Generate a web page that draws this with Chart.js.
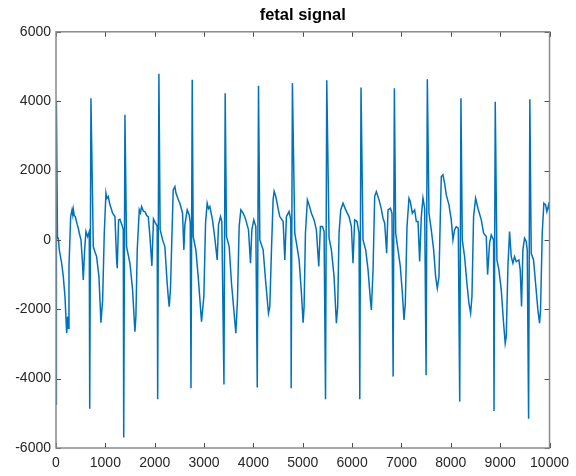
<!DOCTYPE html>
<html lang="en">
<head>
    <meta charset="UTF-8">
    <title>fetal signal</title>
    <script src="https://cdn.jsdelivr.net/npm/chart.js"></script>
    <style>
        body { margin: 0; background: #fff; }
        canvas { display: block; }
    </style>
</head>
<body>

    <canvas id="grafico" width="576" height="476"></canvas>

    <script>
        const titulo = 'fetal signal';
        const xTicks = [0, 1000, 2000, 3000, 4000, 5000, 6000, 7000, 8000, 9000, 10000];
        const yTicks = [-6000, -4000, -2000, 0, 2000, 4000, 6000];

        // sample index / amplitude (one beat per line)
        const sampleIdx = [
            0, 8, 30, 47, 67, 115, 148, 182, 216, 236, 250, 263, 297, 324, 340, 351, 370, 391, 410, 432, 450, 472, 506, 533, 553, 580, 607, 641, 674, 683, 708,
            756, 790, 823, 870, 911, 945, 978, 1012, 1030, 1059, 1093, 1120, 1147, 1194, 1228, 1241, 1268, 1295, 1336, 1363, 1372, 1397,
            1430, 1498, 1552, 1599, 1619, 1646, 1687, 1710, 1734, 1770, 1802, 1840, 1869, 1903, 1943, 1975, 2010, 2050, 2060, 2085,
            2110, 2160, 2206, 2250, 2274, 2294, 2320, 2341, 2375, 2409, 2430, 2456, 2480, 2510, 2540, 2564, 2591, 2611, 2659, 2699, 2720, 2735, 2760,
            2780, 2834, 2881, 2949, 2996, 3030, 3063, 3090, 3117, 3145, 3171, 3218, 3266, 3293, 3333, 3360, 3403, 3428,
            3455, 3509, 3556, 3603, 3644, 3677, 3711, 3745, 3792, 3820, 3846, 3900, 3941, 3968, 4008, 4049, 4078, 4103,
            4130, 4197, 4251, 4305, 4332, 4366, 4399, 4420, 4453, 4467, 4500, 4534, 4602, 4636, 4669, 4723, 4757, 4765, 4790,
            4838, 4872, 4926, 4973, 5007, 5027, 5054, 5094, 5128, 5175, 5229, 5276, 5324, 5357, 5398, 5432, 5461, 5486,
            5533, 5580, 5634, 5681, 5708, 5735, 5769, 5816, 5870, 5937, 5985, 6018, 6052, 6099, 6140, 6155, 6180,
            6221, 6275, 6323, 6370, 6390, 6424, 6457, 6491, 6545, 6590, 6626, 6660, 6700, 6727, 6775, 6808, 6831, 6856,
            6883, 6930, 6977, 7018, 7051, 7078, 7112, 7152, 7179, 7220, 7267, 7301, 7335, 7368, 7402, 7436, 7470, 7499, 7524,
            7557, 7604, 7652, 7692, 7726, 7760, 7787, 7807, 7840, 7874, 7908, 7962, 8009, 8043, 8076, 8110, 8151, 8180, 8205,
            8232, 8279, 8326, 8367, 8401, 8428, 8461, 8502, 8549, 8617, 8664, 8718, 8745, 8785, 8819, 8866, 8875, 8900,
            8934, 8974, 9022, 9069, 9102, 9123, 9157, 9190, 9224, 9258, 9291, 9325, 9379, 9406, 9433, 9460, 9494, 9528, 9548, 9576, 9601,
            9629, 9676, 9717, 9764, 9798, 9818, 9852, 9885, 9919, 9946, 9980, 10000
        ];
        const amplitude = [
            -4740, 4000, 50, 48, -288, -673, -1058, -1634, -2692, -2212, -2550, -769, 673, 865, 720, 880, 700, 673, 560, 433, 350, 192, 0, -577, -1154, -288, 240, 96, 240, -4865, 4087,
            -193, -350, -481, -1058, -2385, -1730, 192, 1346, 1200, 1250, 1010, 900, 769, 673, -577, -817, 577, 596, 433, 288, -5700, 3605,
            -193, -673, -1442, -2644, -2210, -288, 865, 780, 962, 830, 817, 700, 673, 100, -750, 600, 500, 400, -4595, 4788,
            300, 0, -192, -1200, -1634, -1923, -1400, -288, 1442, 1538, 1350, 1250, 1150, 1058, 900, 769, -288, 433, 865, 721, 500, -4280, 4615,
            96, -288, -1058, -2356, -1634, 481, 1058, 900, 962, 760, 577, 48, -577, 433, 673, 529, -4170, 4231,
            96, -193, -1250, -2019, -2692, -1730, 384, 865, 769, 680, 577, 288, -673, 288, 577, 384, -4257, 4442,
            0, -288, -1250, -2115, -1923, -288, 1154, 1400, 1250, 1154, 900, 673, 529, -577, 673, 817, 577, -4280, 4520,
            192, -96, -577, -1538, -2385, -1923, 192, 1154, 1010, 769, 577, 288, -769, 384, 384, 240, -4597, 4605,
            48, -288, -1058, -2404, -1923, 192, 865, 1058, 865, 673, 384, -673, 577, 529, 192, -4597, 4393,
            0, -288, -865, -1730, -2019, -865, 1250, 1394, 1154, 900, 625, 481, -385, 865, 913, 769, -3942, 4375,
            192, -288, -769, -1538, -2308, -1827, 384, 1202, 1106, 769, 865, 529, 529, -625, 673, 1202, 913, -3904, 4635,
            769, 288, -288, -1058, -1394, -1058, 673, 1827, 1875, 1634, 1298, 1010, 577, 0, 288, 384, 336, -4663, 4087,
            0, -481, -1250, -1827, -2115, -1634, 673, 1202, 913, 577, 192, 96, -1000, -96, 144, 0, -4932, 3980,
            -577, -865, -1442, -2404, -2981, -2788, -769, 240, -481, -673, -481, -625, -577, -865, -1923, -288, 48, -48, -288, -5154, 4058,
            -385, -577, -1250, -2019, -2404, -2019, 192, 1058, 1010, 817, 1010, 850
        ];

        const pontos = sampleIdx.map((x, i) => ({ x: x, y: amplitude[i] }));
        const fonte = '"Liberation Sans", Arial, sans-serif';

        // caixa estilo MATLAB com ticks para dentro nos quatro lados
        const caixa = {
            id: 'caixa',
            afterDraw(chart) {
                const ctx = chart.ctx;
                const a = chart.chartArea;
                const sx = chart.scales.x;
                const sy = chart.scales.y;
                ctx.save();
                ctx.strokeStyle = '#4d4d4d';
                ctx.lineWidth = 1;
                ctx.beginPath();
                xTicks.forEach(v => {
                    const px = Math.round(sx.getPixelForValue(v)) + 0.5;
                    ctx.moveTo(px, a.bottom); ctx.lineTo(px, a.bottom - 5);
                    ctx.moveTo(px, a.top); ctx.lineTo(px, a.top + 5);
                });
                yTicks.forEach(v => {
                    const py = Math.round(sy.getPixelForValue(v)) + 0.5;
                    ctx.moveTo(a.left, py); ctx.lineTo(a.left + 5, py);
                    ctx.moveTo(a.right, py); ctx.lineTo(a.right - 5, py);
                });
                ctx.stroke();
                ctx.strokeStyle = '#8a8a8a';
                ctx.lineWidth = 1.5;
                ctx.strokeRect(a.left, a.top, a.right - a.left, a.bottom - a.top);
                ctx.restore();
            }
        };

        new Chart(document.getElementById('grafico'), {
            type: 'line',
            data: {
                datasets: [{
                    data: pontos,
                    borderColor: '#0072BD',
                    borderWidth: 1.5,
                    pointRadius: 0,
                    tension: 0,
                    fill: false
                }]
            },
            options: {
                responsive: false,
                animation: false,
                layout: { padding: { left: 0, right: 26, top: 0, bottom: 0 } },
                plugins: {
                    legend: { display: false },
                    tooltip: { enabled: false },
                    title: {
                        display: true,
                        text: titulo,
                        fullSize: false,
                        color: '#000',
                        font: { family: fonte, size: 16.5, weight: 'bold' },
                        padding: { top: 6, bottom: 6 }
                    }
                },
                scales: {
                    x: {
                        type: 'linear',
                        min: 0,
                        max: 10000,
                        grid: { display: false, drawTicks: false },
                        border: { display: false },
                        afterBuildTicks: s => { s.ticks = xTicks.map(v => ({ value: v })); },
                        afterFit: s => { s.height = 28; },
                        ticks: {
                            padding: 7,
                            color: '#262626',
                            font: { family: fonte, size: 14 },
                            maxRotation: 0,
                            callback: v => String(v)
                        }
                    },
                    y: {
                        min: -6000,
                        max: 6000,
                        grid: { display: false, drawTicks: false },
                        border: { display: false },
                        afterBuildTicks: s => { s.ticks = yTicks.map(v => ({ value: v })); },
                        afterFit: s => { s.width = 56; },
                        ticks: {
                            padding: 5,
                            color: '#262626',
                            font: { family: fonte, size: 14 },
                            callback: v => String(v)
                        }
                    }
                }
            },
            plugins: [caixa]
        });
    </script>

</body>
</html>
